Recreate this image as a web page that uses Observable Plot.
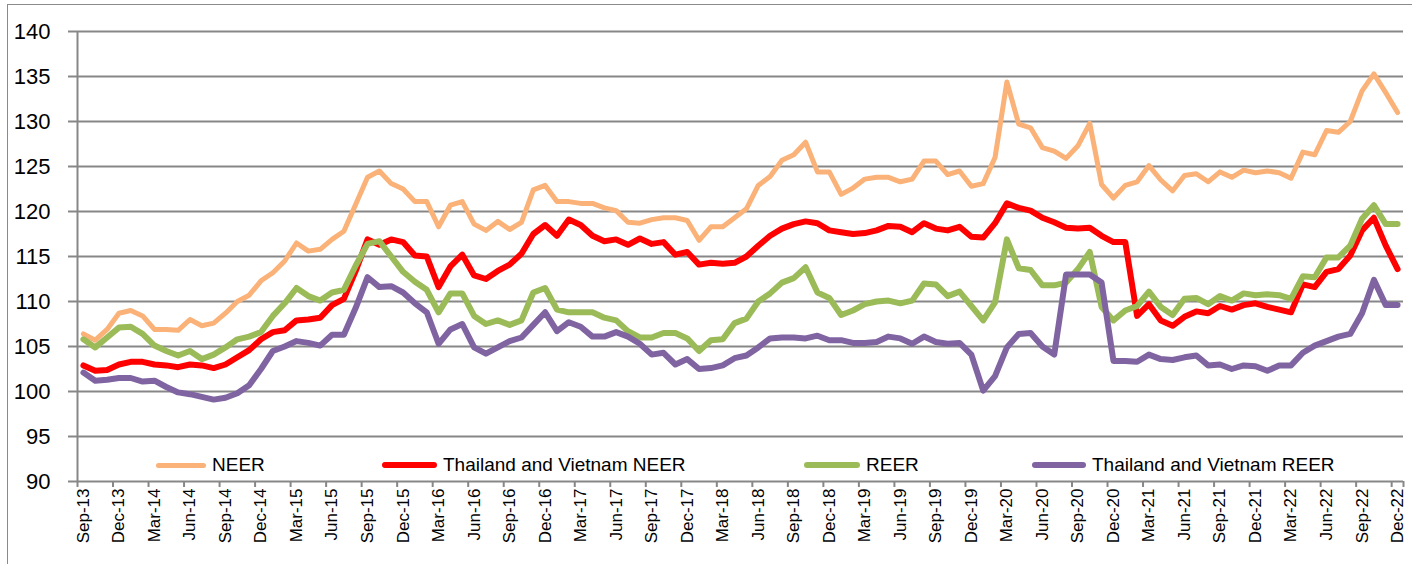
<!DOCTYPE html>
<html>
<head>
<meta charset="utf-8">
<script src="https://cdn.jsdelivr.net/npm/d3@7"></script>
<script src="https://cdn.jsdelivr.net/npm/@observablehq/plot@0.6"></script>
<style>
  body { margin: 0; background: #fff; }
  #wrap { position: relative; width: 1412px; height: 564px; overflow: hidden; font-family: "Liberation Sans", Arial, sans-serif; color: #000; }
  #wrap svg { position: absolute; left: 0; top: 0; }
  #border { position: absolute; left: 7px; top: 4px; width: 1420px; height: 600px; border-left: 1.5px solid #8a8a8a; border-top: 1.5px solid #8a8a8a; }
  .leg { position: absolute; top: 452px; height: 26px; display: flex; align-items: center; font-size: 19px; white-space: nowrap; }
  .sw { height: 5px; border-radius: 3px; margin-right: 6px; }
</style>
</head>
<body>
<div id="wrap">
  <div id="border"></div>
</div>
<script>
// Categories (monthly, Sep-13 .. Dec-22)
const months = [
  "Sep-13","Oct-13","Nov-13","Dec-13",
  "Jan-14","Feb-14","Mar-14","Apr-14","May-14","Jun-14","Jul-14","Aug-14","Sep-14","Oct-14","Nov-14","Dec-14",
  "Jan-15","Feb-15","Mar-15","Apr-15","May-15","Jun-15","Jul-15","Aug-15","Sep-15","Oct-15","Nov-15","Dec-15",
  "Jan-16","Feb-16","Mar-16","Apr-16","May-16","Jun-16","Jul-16","Aug-16","Sep-16","Oct-16","Nov-16","Dec-16",
  "Jan-17","Feb-17","Mar-17","Apr-17","May-17","Jun-17","Jul-17","Aug-17","Sep-17","Oct-17","Nov-17","Dec-17",
  "Jan-18","Feb-18","Mar-18","Apr-18","May-18","Jun-18","Jul-18","Aug-18","Sep-18","Oct-18","Nov-18","Dec-18",
  "Jan-19","Feb-19","Mar-19","Apr-19","May-19","Jun-19","Jul-19","Aug-19","Sep-19","Oct-19","Nov-19","Dec-19",
  "Jan-20","Feb-20","Mar-20","Apr-20","May-20","Jun-20","Jul-20","Aug-20","Sep-20","Oct-20","Nov-20","Dec-20",
  "Jan-21","Feb-21","Mar-21","Apr-21","May-21","Jun-21","Jul-21","Aug-21","Sep-21","Oct-21","Nov-21","Dec-21",
  "Jan-22","Feb-22","Mar-22","Apr-22","May-22","Jun-22","Jul-22","Aug-22","Sep-22","Oct-22","Nov-22","Dec-22"
];

// Series values
const neer = [
  106.4,105.7,106.9,108.7,109.0,108.4,106.9,106.9,106.8,108.0,107.3,107.6,108.7,110.0,110.7,112.3,
  113.2,114.5,116.5,115.6,115.8,116.9,117.8,120.8,123.8,124.5,123.1,122.5,121.1,121.1,118.3,120.7,
  121.1,118.6,117.9,118.9,118.0,118.8,122.4,122.9,121.1,121.1,120.9,120.9,120.4,120.1,118.8,118.7,
  119.1,119.3,119.3,119.0,116.8,118.3,118.3,119.3,120.3,122.9,123.9,125.7,126.3,127.7,124.4,124.4,
  121.9,122.6,123.6,123.8,123.8,123.3,123.6,125.6,125.6,124.1,124.5,122.8,123.1,126.0,134.4,129.7,
  129.3,127.1,126.7,125.9,127.3,129.8,123.0,121.5,122.9,123.3,125.1,123.5,122.3,124.0,124.2,123.3,
  124.4,123.8,124.6,124.3,124.5,124.3,123.7,126.6,126.3,129.0,128.8,130.0,133.4,135.3,133.2,131.0
];
const tvNeer = [
  102.9,102.3,102.4,103.0,103.3,103.3,103.0,102.9,102.7,103.0,102.9,102.6,103.0,103.8,104.6,105.8,
  106.6,106.8,107.9,108.0,108.2,109.6,110.3,113.4,116.9,116.3,116.9,116.6,115.1,115.0,111.6,113.9,
  115.2,112.9,112.5,113.4,114.1,115.3,117.5,118.5,117.3,119.1,118.5,117.3,116.7,116.9,116.3,117.0,
  116.4,116.6,115.2,115.5,114.1,114.3,114.2,114.3,115.0,116.2,117.3,118.1,118.6,118.9,118.7,117.9,
  117.7,117.5,117.6,117.9,118.4,118.3,117.7,118.7,118.1,117.9,118.3,117.2,117.1,118.7,120.9,120.4,
  120.1,119.3,118.8,118.2,118.1,118.2,117.3,116.6,116.6,108.4,109.7,107.9,107.3,108.3,108.9,108.7,
  109.5,109.1,109.6,109.8,109.4,109.1,108.8,111.9,111.6,113.3,113.6,115.1,117.9,119.3,116.2,113.6
];
const reer = [
  105.8,104.9,106.0,107.1,107.2,106.4,105.1,104.5,104.0,104.5,103.6,104.1,104.9,105.8,106.1,106.6,
  108.4,109.8,111.5,110.6,110.1,111.0,111.3,114.0,116.4,116.7,115.0,113.3,112.2,111.3,108.8,110.9,
  110.9,108.4,107.5,107.9,107.4,107.9,111.0,111.5,109.1,108.8,108.8,108.8,108.2,107.9,106.7,106.0,
  106.0,106.5,106.5,105.9,104.5,105.7,105.8,107.6,108.1,110.0,110.9,112.1,112.6,113.8,111.0,110.4,
  108.5,109.0,109.7,110.0,110.1,109.8,110.1,112.0,111.9,110.6,111.1,109.5,107.9,109.9,116.9,113.7,
  113.5,111.8,111.8,112.1,113.6,115.5,109.4,107.9,109.0,109.5,111.1,109.4,108.5,110.3,110.4,109.7,
  110.6,110.1,110.9,110.7,110.8,110.7,110.3,112.8,112.7,114.9,114.9,116.2,119.2,120.7,118.6,118.6
];
const tvReer = [
  102.1,101.2,101.3,101.5,101.5,101.1,101.2,100.5,99.9,99.7,99.4,99.1,99.3,99.8,100.7,102.5,
  104.5,105.0,105.6,105.4,105.1,106.3,106.3,109.3,112.7,111.6,111.7,111.0,109.8,108.8,105.3,106.9,
  107.5,104.9,104.2,104.9,105.6,106.0,107.4,108.8,106.7,107.7,107.2,106.1,106.1,106.6,106.1,105.3,
  104.1,104.3,103.0,103.6,102.5,102.6,102.9,103.7,104.0,104.9,105.9,106.0,106.0,105.9,106.2,105.7,
  105.7,105.4,105.4,105.5,106.1,105.9,105.3,106.1,105.5,105.3,105.4,104.1,100.1,101.7,104.9,106.4,
  106.5,105.0,104.1,113.0,113.0,113.0,112.1,103.4,103.4,103.3,104.1,103.6,103.5,103.8,104.0,102.9,
  103.0,102.5,102.9,102.8,102.3,102.9,102.9,104.3,105.1,105.6,106.1,106.4,108.7,112.4,109.6,109.6
];

const seriesNames = ["NEER", "Thailand and Vietnam NEER", "REER", "Thailand and Vietnam REER"];
const seriesColors = ["#FAB278", "#FF0000", "#9BBB59", "#8064A2"];
const seriesWidths = [5, 6, 6, 6];
const yTicks = [90, 95, 100, 105, 110, 115, 120, 125, 130, 135, 140];

const grey = "#878787";
const n = months.length;
const xDomain = [-0.5, n - 0.5];
const labelTicks = d3.range(0, n, 3);
const boundaryTicks = d3.range(-0.5, n, 3).concat([n - 0.5]);

const allSeries = [neer, tvNeer, reer, tvReer];

const chart = Plot.plot({
  width: 1412,
  height: 564,
  marginLeft: 77,
  marginRight: 9,
  marginTop: 31,
  marginBottom: 83,
  style: { fontFamily: "'Liberation Sans', Arial, sans-serif", background: "transparent", color: "#000" },
  x: { type: "linear", domain: xDomain },
  y: { domain: [90, 140] },
  marks: [
    Plot.gridY(yTicks, { stroke: grey, strokeOpacity: 1, strokeWidth: 2 }),
    Plot.axisY({ ticks: yTicks, tickSize: 9, tickPadding: 18, fontSize: 22, stroke: grey, strokeWidth: 2, fill: "#000", tickFormat: d => String(d), label: null }),
    Plot.ruleX([xDomain[0]], { stroke: grey, strokeWidth: 2 }),
    Plot.axisX({ ticks: boundaryTicks, tickSize: 6, tickFormat: () => "", stroke: grey, strokeWidth: 2, label: null }),
    Plot.axisX({ ticks: labelTicks, tickSize: 0, tickPadding: 7, tickRotate: -90, fontSize: 17, fill: "#000", tickFormat: i => months[i], label: null }),
    ...allSeries.map((vals, k) =>
      Plot.line(vals, {
        x: (d, i) => i,
        y: d => d,
        stroke: seriesColors[k],
        strokeWidth: seriesWidths[k],
        strokeLinejoin: "round",
        strokeLinecap: "round"
      })
    )
  ]
});

const wrap = document.getElementById("wrap");
wrap.appendChild(chart);

// Legend (inside plot area, as in the reference)
const legendLeft = [156, 382, 804, 1032];
const swatchW = [50, 55, 56, 54];
seriesNames.forEach((name, k) => {
  const item = document.createElement("div");
  item.className = "leg";
  item.style.left = legendLeft[k] + "px";
  const sw = document.createElement("div");
  sw.className = "sw";
  sw.style.width = swatchW[k] + "px";
  sw.style.background = seriesColors[k];
  sw.style.height = seriesWidths[k] + "px";
  const t = document.createElement("span");
  t.textContent = name;
  item.appendChild(sw);
  item.appendChild(t);
  wrap.appendChild(item);
});
</script>
</body>
</html>
